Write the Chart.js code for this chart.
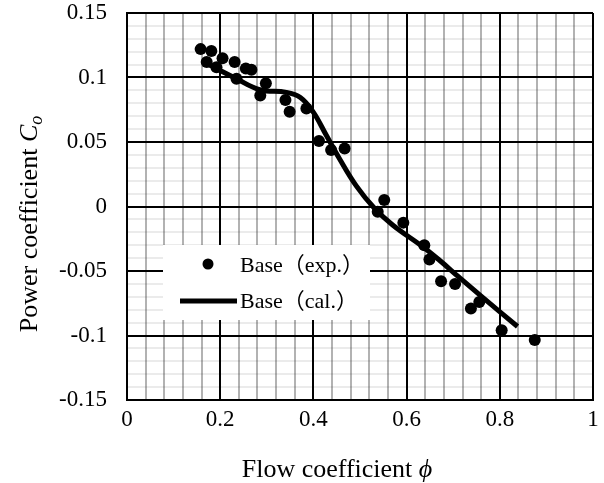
<!DOCTYPE html>
<html>
<head>
<meta charset="utf-8">
<script src="https://cdn.jsdelivr.net/npm/chart.js@4.4.0/dist/chart.umd.min.js"></script>
<style>
	body { margin: 0; background: #fff; }
	#wrap { width: 604px; height: 483px; }
</style>
</head>
<body>
<div id="wrap"><canvas id="chart0" width="604" height="483"></canvas></div>
<script>

// 実験値
const expPhi = [0.158, 0.171, 0.181, 0.192, 0.205, 0.231, 0.235, 0.255, 0.267, 0.286, 0.298, 0.340, 0.349, 0.385,
	0.412, 0.438, 0.467, 0.538, 0.552, 0.593, 0.638, 0.649, 0.674, 0.704, 0.738, 0.756, 0.804, 0.875];
const expCo = [0.122, 0.112, 0.1205, 0.108, 0.115, 0.112, 0.099, 0.107, 0.106, 0.086, 0.0955, 0.0826, 0.0735, 0.076,
	0.0508, 0.0438, 0.045, -0.004, 0.005, -0.0125, -0.030, -0.041, -0.058, -0.060, -0.079, -0.074, -0.096, -0.1035];

// 計算値
const calPhi = [0.17, 0.235, 0.285, 0.342, 0.372, 0.399, 0.428, 0.456, 0.492, 0.531, 0.570, 0.634, 0.670, 0.713, 0.760, 0.838];
const calCo = [0.111, 0.099, 0.0905, 0.0885, 0.0845, 0.0735, 0.055, 0.037, 0.016, -0.0014, -0.0143, -0.031, -0.0415, -0.055, -0.0695, -0.093];

const seriesNames = ['Base（exp.）', 'Base（cal.）'];
const xTickLabels = ['0', '0.2', '0.4', '0.6', '0.8', '1'];
const yTickLabels = ['-0.15', '-0.1', '-0.05', '0', '0.05', '0.1', '0.15'];

const serif = "'Liberation Serif', 'Times New Roman', 'Noto Sans CJK JP', serif";

function nearStep(v, origin, step) {
	let i = Math.round((v - origin) / step);
	return Math.abs(origin + i * step - v) < 1e-6 ? i : -1;
}

function drawParts(ctx, parts, x, y) {
	parts.forEach(p => {
		ctx.font = p.font;
		ctx.fillText(p.text, x, y + (p.dy || 0));
		x += ctx.measureText(p.text).width;
	});
}

function partsWidth(ctx, parts) {
	let w = 0;
	parts.forEach(p => { ctx.font = p.font; w += ctx.measureText(p.text).width; });
	return w;
}

/**
 * 軸タイトル（斜体・下付き文字を含む）
 */
const axisTitles = {
	id: 'axisTitles',
	afterDraw(chart) {
		let ctx = chart.ctx;
		ctx.save();
		ctx.fillStyle = '#000';
		ctx.textAlign = 'left';
		ctx.textBaseline = 'alphabetic';

		let xParts = [
			{ text: 'Flow coefficient ', font: '26px ' + serif },
			{ text: 'ϕ', font: 'italic 26px ' + serif }
		];
		let w = partsWidth(ctx, xParts);
		drawParts(ctx, xParts, 337 - w / 2, 477);

		let yParts = [
			{ text: 'Power coefficient ', font: '26px ' + serif },
			{ text: 'C', font: 'italic 26px ' + serif },
			{ text: 'o', font: 'italic 18px ' + serif, dy: 5 }
		];
		w = partsWidth(ctx, yParts);
		ctx.translate(37, 224);
		ctx.rotate(-Math.PI / 2);
		drawParts(ctx, yParts, -w / 2, 0);
		ctx.restore();
	}
};

/**
 * 凡例（プロットエリア内）
 */
const innerLegend = {
	id: 'innerLegend',
	afterDatasetsDraw(chart) {
		let ctx = chart.ctx;
		ctx.save();
		ctx.fillStyle = '#fff';
		ctx.fillRect(163, 245, 207, 75);

		ctx.fillStyle = '#000';
		ctx.beginPath();
		ctx.arc(208, 264, 5.5, 0, Math.PI * 2);
		ctx.fill();

		ctx.strokeStyle = '#000';
		ctx.lineWidth = 5;
		ctx.beginPath();
		ctx.moveTo(180, 301);
		ctx.lineTo(237, 301);
		ctx.stroke();

		ctx.font = '22px ' + serif;
		ctx.textAlign = 'left';
		ctx.textBaseline = 'alphabetic';
		ctx.fillText(seriesNames[0], 240, 272);
		ctx.fillText(seriesNames[1], 240, 308);
		ctx.restore();
	}
};

function drawChart() {
	let config = {
		type: 'scatter',
		data: {
			datasets: [{
				label: seriesNames[0],
				data: expPhi.map((v, i) => ({ x: v, y: expCo[i] })),
				backgroundColor: '#000',
				borderWidth: 0,
				pointRadius: 6,
				pointHoverRadius: 6
			}, {
				label: seriesNames[1],
				data: calPhi.map((v, i) => ({ x: v, y: calCo[i] })),
				showLine: true,
				borderColor: '#000',
				borderWidth: 5,
				pointRadius: 0,
				tension: 0.4,
				fill: false
			}]
		},
		options: {
			responsive: false,
			animation: false,
			layout: { padding: { top: 13, right: 11, left: 0, bottom: 0 } },
			plugins: {
				legend: { display: false },
				tooltip: { enabled: false },
				title: { display: false }
			},
			scales: {
				x: {
					type: 'linear',
					min: 0,
					max: 1,
					afterFit: scale => {
						scale.height = 83;
						scale.paddingLeft = 0;
						scale.paddingRight = 0;
					},
					border: { display: true, color: '#000', width: 2 },
					grid: {
						drawTicks: false,
						color: c => nearStep(c.tick.value, 0, 0.2) >= 0 ? '#000' : 'rgba(0,0,0,0.3)',
						lineWidth: 2
					},
					ticks: {
						stepSize: 0.04,
						autoSkip: false,
						maxRotation: 0,
						padding: 6,
						color: '#000',
						font: { family: serif, size: 23 },
						callback: v => {
							let i = nearStep(v, 0, 0.2);
							return i >= 0 ? xTickLabels[i] : '';
						}
					}
				},
				y: {
					min: -0.15,
					max: 0.15,
					afterFit: scale => {
						scale.width = 127;
						scale.paddingTop = 0;
						scale.paddingBottom = 0;
					},
					border: { display: true, color: '#000', width: 2 },
					grid: {
						drawTicks: false,
						color: c => nearStep(c.tick.value, -0.15, 0.05) >= 0 ? '#000' : 'rgba(0,0,0,0.08)',
						lineWidth: 2
					},
					ticks: {
						stepSize: 0.01,
						autoSkip: false,
						padding: 20,
						color: '#000',
						font: { family: serif, size: 23 },
						callback: v => {
							let i = nearStep(v, -0.15, 0.05);
							return i >= 0 ? yTickLabels[i] : '';
						}
					}
				}
			}
		},
		plugins: [innerLegend, axisTitles]
	};
	let grapharea = document.getElementById('chart0').getContext('2d');
	window.myChart = new Chart(grapharea, config);
}

drawChart();
</script>
</body>
</html>
